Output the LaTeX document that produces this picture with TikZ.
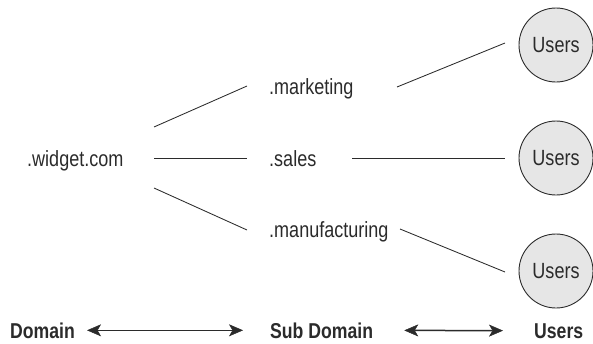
\documentclass[tikz,border=0pt]{standalone}
\usepackage{fontspec}
\setmainfont[FakeStretch=0.82]{Liberation Sans}
\usetikzlibrary{arrows.meta}
\definecolor{ink}{HTML}{2B2B2B}
\definecolor{userfill}{HTML}{E6E6E6}
\tikzset{
  lbl/.style={font=\fontsize{22}{24}\selectfont, text=ink, inner sep=0pt, anchor=base west},
  bottomlbl/.style={font=\fontsize{21.5}{24}\selectfont\bfseries, text=ink, inner sep=0pt, anchor=base west},
  usernode/.style={circle, draw=ink, line width=0.9pt, fill=userfill, minimum size=74pt, inner sep=0pt,
    font=\fontsize{22}{24}\selectfont, text=ink},
  conn/.style={draw=ink, line width=0.85pt},
  tipshape/.tip={Stealth[length=14pt,width=12pt,inset=3.5pt,line width=0.5pt]},
  dbl/.style={draw=ink, fill=ink, line width=1.5pt, arrows={tipshape-tipshape}}
}
\begin{document}
\begin{tikzpicture}[x=1pt,y=-1pt]
\useasboundingbox (0,0) rectangle (593,343);
% labels
\node[lbl] (widget) at (27,166) {.widget.com};
\node[lbl] (mkt) at (269,94) {.marketing};
\node[lbl] (sales) at (269,166) {.sales};
\node[lbl] (mfg) at (269,237) {.manufacturing};
% users circles
\node[usernode] (u1) at (556,45) {Users};
\node[usernode] (u2) at (556,158) {Users};
\node[usernode] (u3) at (556,271) {Users};
% connector end points
\coordinate (w1) at (154,127);
\coordinate (w2) at (154,158);
\coordinate (w3) at (154,188);
\coordinate (m1) at (247,86);
\coordinate (s1) at (247,158);
\coordinate (f1) at (247,230);
\coordinate (m2) at (397,87);
\coordinate (s2) at (352,158);
\coordinate (f2) at (400,229);
\coordinate (c1) at (505,43);
\coordinate (c2) at (505,158);
\coordinate (c3) at (505,272);
\draw[conn] (w1) -- (m1);
\draw[conn] (w2) -- (s1);
\draw[conn] (w3) -- (f1);
\draw[conn] (m2) -- (c1);
\draw[conn] (s2) -- (c2);
\draw[conn] (f2) -- (c3);
% bottom row
\node[bottomlbl] (dom) at (10,338) {Domain};
\node[bottomlbl] (sub) at (270,338) {Sub Domain};
\node[bottomlbl] (usr) at (534,338) {Users};
\draw[dbl, shorten <=12pt, shorten >=27pt] (dom.east) -- (sub.west);
\draw[dbl, shorten <=31pt, shorten >=31pt] (sub.east) -- (usr.west);
\end{tikzpicture}
\end{document}
